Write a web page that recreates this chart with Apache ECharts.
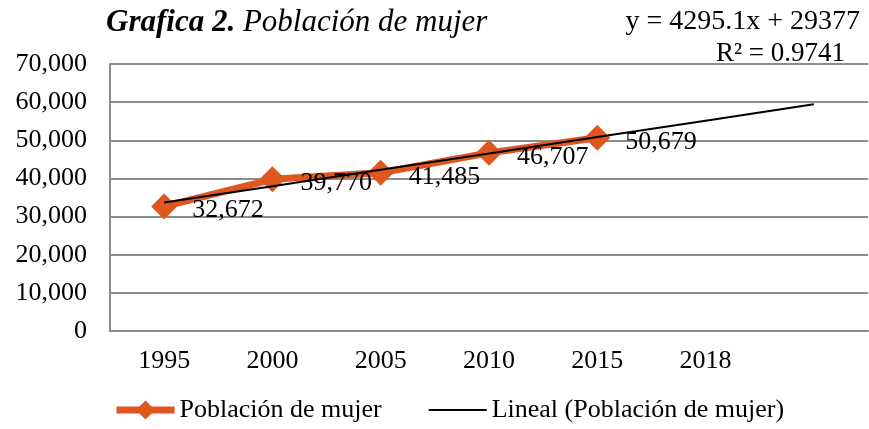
<!DOCTYPE html>
<html>
<head>
<meta charset="utf-8">
<script src="https://cdn.jsdelivr.net/npm/echarts@6/dist/echarts.min.js"></script>
<style>
  html, body { margin: 0; padding: 0; background: #fff; }
  #chart { width: 869px; height: 429px; }
</style>
</head>
<body>
<div id="chart"></div>
<script>
// categories (the last slot is empty, it only carries the trend line end)
const years = ['1995', '2000', '2005', '2010', '2015', '2018', '']
const mujer = [32672, 39770, 41485, 46707, 50679, null, null]
// linear trend read from y = 4295.1x + 29377
const lineal = [33672, 37967, 42262, 46558, 50853, 55148, 59443]
const yTicks = [0, 10000, 20000, 30000, 40000, 50000, 60000, 70000]

const font = 'Liberation Serif'
const orange = '#e0561f'
const fmt = v => String(v).replace(/\B(?=(\d{3})+(?!\d))/g, ',')

const chart = echarts.init(document.getElementById('chart'))
chart.setOption({
  animation: false,
  textStyle: { fontFamily: font },
  title: {
    text: '{b|Grafica 2.}{i| Población de mujer}',
    left: 101,
    top: 2,
    textStyle: {
      fontWeight: 'normal',
      rich: {
        b: { fontFamily: font, fontSize: 31, fontWeight: 'bold', fontStyle: 'italic', color: '#000' },
        i: { fontFamily: font, fontSize: 31, fontWeight: 'normal', fontStyle: 'italic', color: '#000' }
      }
    }
  },
  graphic: [
    { type: 'text', right: 9, top: 8, style: { text: 'y = 4295.1x + 29377', font: '28px "Liberation Serif"', fill: '#000' } },
    { type: 'text', right: 24, top: 40, style: { text: 'R² = 0.9741', font: '27px "Liberation Serif"', fill: '#000' } }
  ],
  legend: {
    left: 108,
    bottom: 1,
    itemWidth: 58,
    itemHeight: 24,
    itemGap: 46,
    textStyle: { fontFamily: font, fontSize: 26, color: '#000' },
    data: [
      { name: 'Población de mujer', lineStyle: { width: 7 } },
      { name: 'Lineal (Población de mujer)', itemStyle: { opacity: 0 }, lineStyle: { width: 2 } }
    ]
  },
  grid: { left: 110, right: 1, top: 64, bottom: 98 },
  xAxis: {
    type: 'category',
    data: years,
    axisLine: { lineStyle: { color: '#8c8c8c', width: 2 } },
    axisTick: { show: false },
    axisLabel: { color: '#000', fontSize: 26, margin: 17 }
  },
  yAxis: {
    type: 'value',
    min: 0,
    max: 70000,
    interval: 10000,
    axisLine: { show: true, lineStyle: { color: '#8c8c8c', width: 2 } },
    axisTick: { show: false },
    splitLine: { lineStyle: { color: '#8c8c8c', width: 2 } },
    axisLabel: {
      color: '#000', fontSize: 26, margin: 23,
      formatter: v => yTicks.includes(v) ? fmt(v) : ''
    }
  },
  series: [
    {
      name: 'Población de mujer',
      type: 'line',
      data: mujer,
      symbol: 'diamond',
      symbolSize: 26,
      itemStyle: { color: orange },
      lineStyle: { color: orange, width: 7 },
      label: {
        show: true,
        position: 'right',
        distance: 15,
        offset: [0, 4],
        color: '#000',
        fontSize: 26,
        fontFamily: font,
        formatter: p => fmt(p.value)
      },
      z: 2
    },
    {
      name: 'Lineal (Población de mujer)',
      type: 'line',
      data: lineal,
      symbol: 'none',
      itemStyle: { color: '#000' },
      lineStyle: { color: '#000', width: 2 },
      z: 3
    }
  ]
})
</script>
</body>
</html>
